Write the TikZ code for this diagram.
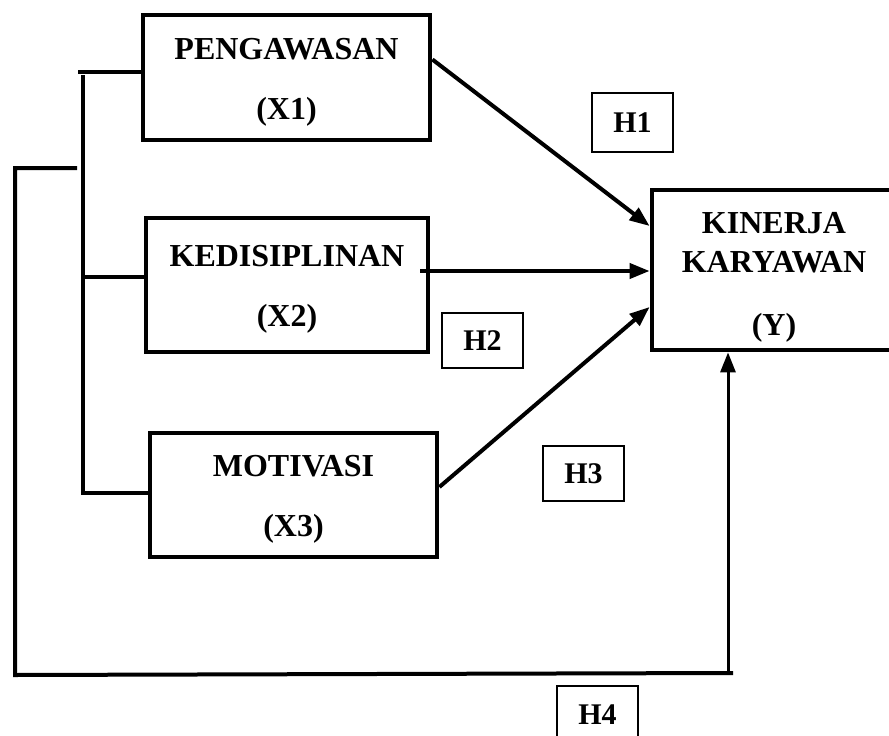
\documentclass[tikz,border=0pt]{standalone}
\usepackage{fontspec}
\setmainfont{Liberation Serif}
\usepackage{tikz}
\usetikzlibrary{positioning}
\usetikzlibrary{arrows.meta}
\tikzset {
  x=1pt, y=-1pt,
  >={Triangle[length=20pt,width=15pt]},
  % variable boxes
  var/.style = {draw, line width=4.8pt, rectangle, align=center,
    font=\fontsize{32}{60}\selectfont\bfseries},
  % hypothesis labels
  hyp/.style = {draw, line width=1.8pt, minimum width=81pt,
    font=\fontsize{30}{36}\selectfont\bfseries},
  % connectors
  link/.style={line width=4pt},
  path/.style={line width=4pt, ->},
}

\begin{document}
\begin{tikzpicture}
      \useasboundingbox (0,0) rectangle (889,736);

      \node[var, minimum width=287pt, minimum height=125pt] (x1) at (286.5,77.5) {\rule{0pt}{30pt}PENGAWASAN\\(X1)};
      \node[var, minimum width=282pt, minimum height=134pt] (x2) at (287,285) {\rule{0pt}{30pt}KEDISIPLINAN\\(X2)};
      \node[var, minimum width=287pt, minimum height=124pt] (x3) at (293.5,495) {\rule{0pt}{30pt}MOTIVASI\\(X3)};
      \node[var, minimum width=244pt, minimum height=160pt,
        font=\fontsize{32}{39}\selectfont\bfseries] (y) at (774,270) {\rule{0pt}{36pt}KINERJA\\KARYAWAN\\[24pt](Y)};

      \node[hyp, minimum height=59pt] (h1) at (632.5,122.5) {H1};
      \node[hyp, minimum height=55pt] (h2) at (482.5,340.5) {H2};
      \node[hyp, minimum height=55pt] (h3) at (583.5,473.5) {H3};
      \node[hyp, minimum height=58pt] (h4) at (597.5,715) {H4};

      % paths to Y
      \draw [path] ([yshift=18pt]x1.east) -- ([yshift=44pt]y.west);
      \coordinate (x2out) at ([xshift=-10pt,yshift=14pt]x2.east);
      \draw [path] (x2out) -- (x2out -| y.west);
      \draw [path] ([yshift=8pt]x3.east) -- ([yshift=-37pt]y.west);

      % bracket joining the X variables
      \coordinate (b1) at (78,72);
      \coordinate (btop) at (83,75);
      \coordinate (b2) at (83,277);
      \coordinate (bbot) at (83,493);
      \draw [link] (b1) -- (b1 -| x1.west);
      \draw [link] (btop) -- (bbot) -- (bbot -| x3.west);
      \draw [link] (b2) -- (b2 -| x2.west);

      % joint path (H4)
      \coordinate (o1) at (77,168);
      \coordinate (o2) at (15,168);
      \coordinate (o3) at (15,675);
      \coordinate (o4) at (728,673);
      \draw [link] (o1) -- (o2) -- (o3) -- ([xshift=5pt]o4);
      \draw [path, line width=3pt] (o4) -- (o4 |- y.south);
    \end{tikzpicture}
\end{document}
